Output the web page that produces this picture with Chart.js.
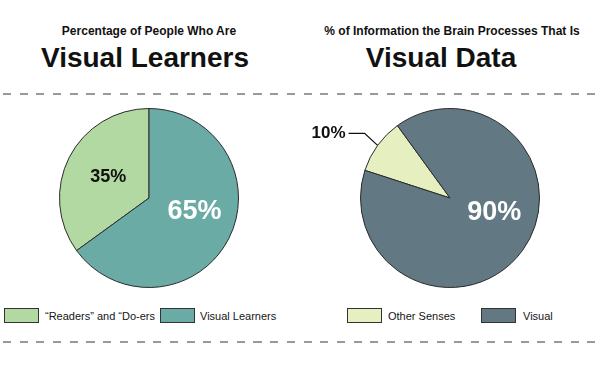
<!DOCTYPE html>
<html>
<head>
<meta charset="utf-8">
<script src="https://cdn.jsdelivr.net/npm/chart.js@4.4.1/dist/chart.umd.min.js"></script>
<style>
  html, body { margin: 0; padding: 0; background: #fff; }
  body { width: 600px; height: 371px; position: relative; overflow: hidden; font-family: "Liberation Sans", Arial, sans-serif; color: #111; }
  .sub { position: absolute; top: 24px; font-size: 12px; font-weight: bold; text-align: center; line-height: 14px; }
  .big { position: absolute; top: 41px; font-size: 28px; font-weight: bold; text-align: center; line-height: 34px; }
  .dash { position: absolute; left: 3px; width: 597px; height: 2px; background: repeating-linear-gradient(to right, #9a9a9a 0 8px, transparent 8px 16.7px); }
  .box { position: absolute; width: 35px; height: 15px; top: 308px; box-sizing: border-box; border: 1px solid #333; }
  .ltxt { position: absolute; top: 309px; font-size: 11px; line-height: 14px; white-space: nowrap; color: #151515; }
  .wrap { position: absolute; top: 103px; width: 300px; height: 190px; }
</style>
</head>
<body>
<div class="sub" style="left:0;width:298px">Percentage of People Who Are</div>
<div class="big" style="left:0;width:290px">Visual Learners</div>
<div class="sub" style="left:300px;width:304px">% of Information the Brain Processes That Is</div>
<div class="big" style="left:300px;width:282px">Visual Data</div>
<div class="dash" style="top:93px"></div>
<div class="dash" style="top:341px"></div>
<div class="wrap" style="left:0"><canvas id="learners"></canvas></div>
<div class="wrap" style="left:300px"><canvas id="brain"></canvas></div>
<div id="legends"></div>
<script>
const learnerLabels = ['\u201cReaders\u201d and \u201cDo-ers', 'Visual Learners'];
const learnerValues = [35, 65];
const learnerColors = ['#b2d9a2', '#6aaba6'];

const brainLabels = ['Other Senses', 'Visual'];
const brainValues = [10, 90];
const brainColors = ['#e6efc0', '#627883'];

// legend positions (box left, text left)
const learnerLegendX = [[4, 45], [160, 200]];
const brainLegendX = [[347, 388], [481, 523]];

const sliceLabels = {
  plugin: {
    id: 'sliceLabels',
    afterDatasetsDraw(chart, args, opts) {
      const c = chart.ctx;
      const meta = chart.getDatasetMeta(0);
      const values = chart.data.datasets[0].data;
      meta.data.forEach((arc, i) => {
        const o = opts.items[i];
        const p = arc.getProps(['x', 'y', 'startAngle', 'endAngle', 'outerRadius'], true);
        const mid = (p.startAngle + p.endAngle) / 2;
        c.save();
        c.font = `bold ${o.size}px "Liberation Sans", Arial, sans-serif`;
        c.fillStyle = o.color;
        c.textBaseline = 'middle';
        if (o.outside) {
          const ex = p.x + Math.cos(mid) * p.outerRadius;
          const ey = p.y + Math.sin(mid) * p.outerRadius;
          const kx = ex - 13, ky = ey - 12;
          c.strokeStyle = '#111';
          c.lineWidth = 1.3;
          c.beginPath();
          c.moveTo(ex, ey);
          c.lineTo(kx, ky);
          c.lineTo(kx - 16, ky);
          c.stroke();
          c.textAlign = 'right';
          c.fillText(values[i] + '%', kx - 19, ky);
        } else {
          const a = mid + o.shift * Math.PI / 180;
          const r = p.outerRadius * o.frac;
          c.textAlign = 'center';
          c.fillText(values[i] + '%', p.x + Math.cos(a) * r, p.y + Math.sin(a) * r);
        }
        c.restore();
      });
    }
  }
};

function makePie(id, labels, values, colors, rotation, padding, items) {
  return new Chart(document.getElementById(id), {
    type: 'pie',
    data: { labels, datasets: [{ data: values, backgroundColor: colors, borderColor: '#2b2b2b', borderWidth: 1 }] },
    options: {
      responsive: true, maintainAspectRatio: false, animation: false,
      rotation,
      layout: { padding },
      plugins: { legend: { display: false }, tooltip: { enabled: false }, sliceLabels: { items } },
    },
    plugins: [sliceLabels.plugin],
  });
}

makePie('learners', learnerLabels, learnerValues, learnerColors, -126,
  { top: 5, bottom: 5, left: 0, right: 2 },
  [{ size: 18, color: '#111', frac: 0.51, shift: 0 }, { size: 27, color: '#fff', frac: 0.53, shift: -11 }]);
makePie('brain', brainLabels, brainValues, brainColors, -72,
  { top: 5, bottom: 5, left: 0, right: 0 },
  [{ size: 17, color: '#111', outside: true }, { size: 27, color: '#fff', frac: 0.52, shift: -18 }]);

const legendEl = document.getElementById('legends');
function addLegend(labels, colors, xs) {
  labels.forEach((lab, i) => {
    legendEl.insertAdjacentHTML('beforeend',
      `<div class="box" style="left:${xs[i][0]}px;background:${colors[i]}"></div><div class="ltxt" style="left:${xs[i][1]}px">${lab}</div>`);
  });
}
addLegend(learnerLabels, learnerColors, learnerLegendX);
addLegend(brainLabels, brainColors, brainLegendX);
</script>
</body>
</html>
